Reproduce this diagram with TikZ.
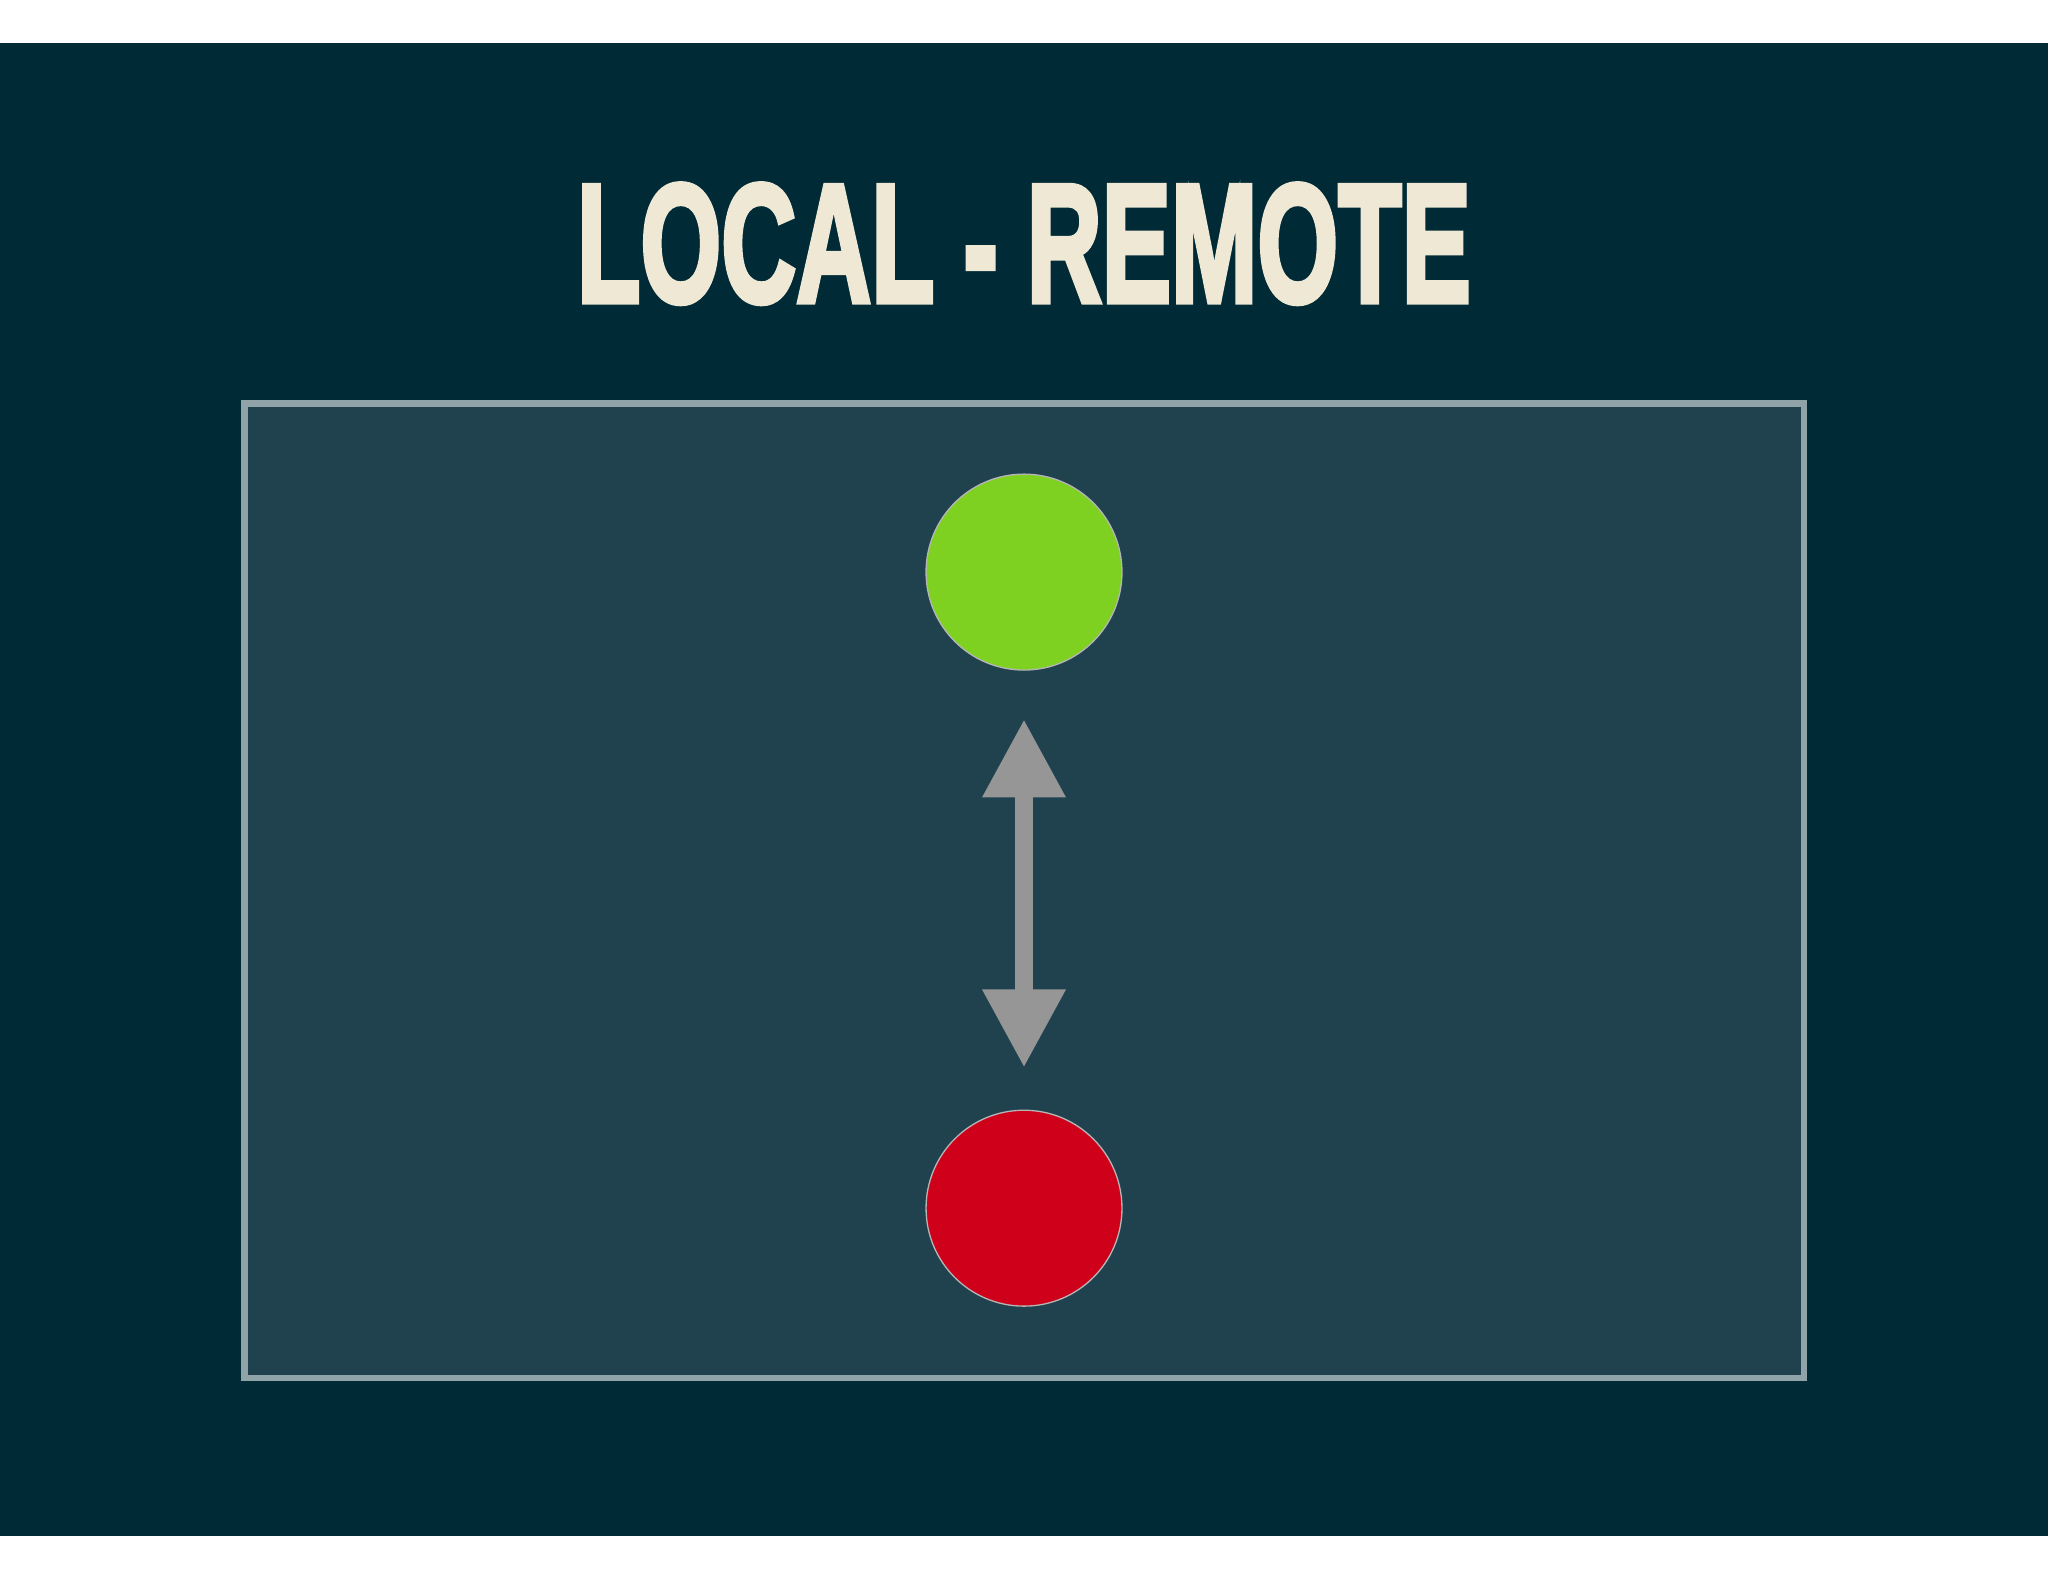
\documentclass[tikz,border=0pt]{standalone}
\usepackage{fontspec}
\setmainfont{Liberation Sans}
\newfontfamily\heavy[BoldFeatures={FakeBold=3.5}]{Liberation Sans}
\usetikzlibrary{arrows.meta}
\definecolor{bg}{RGB}{0,43,54}
\definecolor{panel}{RGB}{32,66,79}
\definecolor{frame}{RGB}{143,163,168}
\definecolor{title}{RGB}{238,232,213}
\definecolor{grn}{RGB}{126,209,33}
\definecolor{rd}{RGB}{207,0,26}
\definecolor{arr}{RGB}{150,150,150}
\tikzset{dot/.style={circle,minimum size=150pt,inner sep=0pt,draw=arr!70,line width=1pt}}
\begin{document}
\begin{tikzpicture}[x=1pt,y=-1pt]
\useasboundingbox (0,0) rectangle (1568,1211);
\fill[white] (0,0) rectangle (1568,1211);
\fill[bg] (0,33) rectangle (1568,1176);
\draw[fill=panel,draw=frame,line width=5pt] (187,309) rectangle (1381,1055);
\node[anchor=base,text=title,inner sep=0pt] (t) at (784,231) {\resizebox{684pt}{90pt}{\heavy\bfseries LOCAL - REMOTE}};
\node[dot,fill=grn] (g) at (784,438) {};
\node[dot,fill=rd] (r) at (784,925) {};
\draw[arr,line width=14pt,{Triangle[width=60pt,length=60pt]}-{Triangle[width=60pt,length=60pt]},shorten <=37pt,shorten >=32pt] (g) -- (r);
\end{tikzpicture}
\end{document}
